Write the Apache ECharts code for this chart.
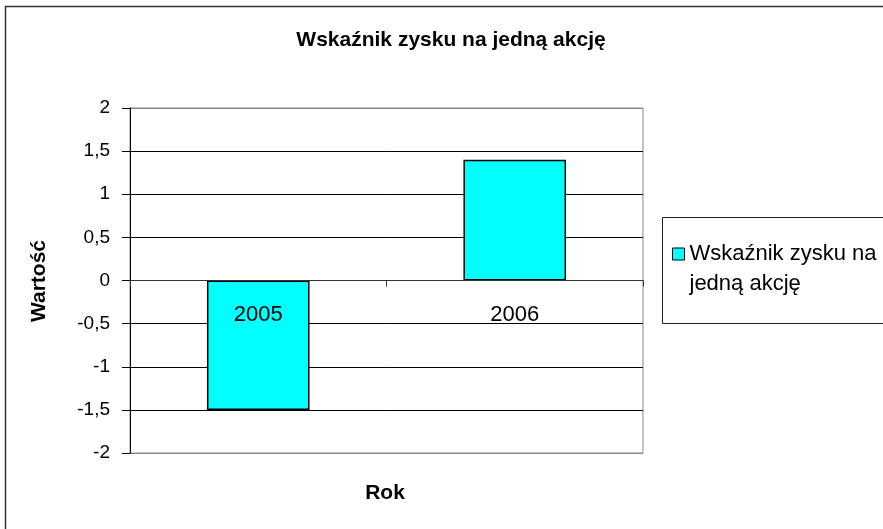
<!DOCTYPE html>
<html>
<head>
<meta charset="utf-8">
<script src="https://cdn.jsdelivr.net/npm/echarts@6/dist/echarts.min.js"></script>
<style>html,body{margin:0;padding:0;background:#fff}#c{width:883px;height:529px}</style>
</head>
<body>
<div id="c"></div>
<script>
const titleText = 'Wskaźnik zysku na jedną akcję';
const seriesName = 'Wskaźnik zysku na jedną akcję';
const categories = ['2005', '2006'];
const values = [-1.5, 1.4];
const yMin = -2, yMax = 2, yStep = 0.5;
const xAxisName = 'Rok';
const yAxisName = 'Wartość';

const chart = echarts.init(document.getElementById('c'));
const FONT = '"Liberation Sans", Arial, sans-serif';
const gridTop = 108, gridBottom = 76, H = 529;
const plotH = H - gridTop - gridBottom;
const zeroOffset = -plotH * (0 - yMin) / (yMax - yMin);
chart.setOption({
  animation: false,
  backgroundColor: '#fff',
  title: {
    text: titleText, left: 446, top: 25, textAlign: 'center',
    textStyle: { fontFamily: FONT, fontWeight: 'bold', fontSize: 21, color: '#000' }
  },
  grid: {
    left: 130, right: 240, top: gridTop, bottom: gridBottom,
    show: true, borderColor: '#888', borderWidth: 1, backgroundColor: '#fff'
  },
  legend: {
    left: 672, top: 209, padding: 0, borderWidth: 0,
    itemWidth: 12, itemHeight: 12, itemGap: 0,
    icon: 'rect',
    formatter: function () { return '\nWskaźnik zysku na\njedną akcję'; },
    textStyle: { fontFamily: FONT, fontSize: 22, color: '#000', lineHeight: 30 },
    itemStyle: { borderColor: '#000', borderWidth: 1 }
  },
  xAxis: {
    type: 'category', data: categories, z: 5,
    position: 'bottom', offset: zeroOffset,
    axisLine: { onZero: false, lineStyle: { color: '#333', width: 1 } },
    axisTick: { show: true, length: 6, lineStyle: { color: '#333' } },
    axisLabel: { fontFamily: FONT, fontSize: 22, color: '#000', margin: 23 },
    splitLine: { show: false }
  },
  yAxis: {
    type: 'value', min: yMin, max: yMax, interval: yStep,
    axisLine: { show: true, lineStyle: { color: '#000', width: 1 } },
    axisTick: { show: true, inside: false, length: 8, lineStyle: { color: '#000' } },
    axisLabel: {
      fontFamily: FONT, fontSize: 19, color: '#000', margin: 20,
      formatter: function (v) { return String(v).replace('.', ','); }
    },
    splitLine: { show: true, lineStyle: { color: ['#888', '#000', '#000', '#000', '#000', '#000', '#000', '#000', '#888'], width: 1 } }
  },
  series: [{
    name: seriesName, type: 'bar', data: values, barWidth: '40%',
    itemStyle: { color: '#00FFFF', borderColor: '#000', borderWidth: 1.5 }
  }],
  graphic: [
    { type: 'rect', silent: true, z: -10, shape: { x: 5.5, y: 6.5, width: 920, height: 600 },
      style: { fill: 'none', stroke: '#333', lineWidth: 1.5 } },
    { type: 'rect', silent: true, z: -5, shape: { x: 662.5, y: 217.5, width: 260, height: 106 },
      style: { fill: '#fff', stroke: '#222', lineWidth: 1 } },
    { type: 'text', silent: true, x: 385, y: 493,
      style: { text: xAxisName, font: 'bold 21px ' + FONT, fill: '#000', textAlign: 'center', textVerticalAlign: 'middle' } },
    { type: 'text', silent: true, x: 39, y: 281, rotation: Math.PI / 2,
      style: { text: yAxisName, font: 'bold 21px ' + FONT, fill: '#000', textAlign: 'center', textVerticalAlign: 'middle' } }
  ]
});
</script>
</body>
</html>
